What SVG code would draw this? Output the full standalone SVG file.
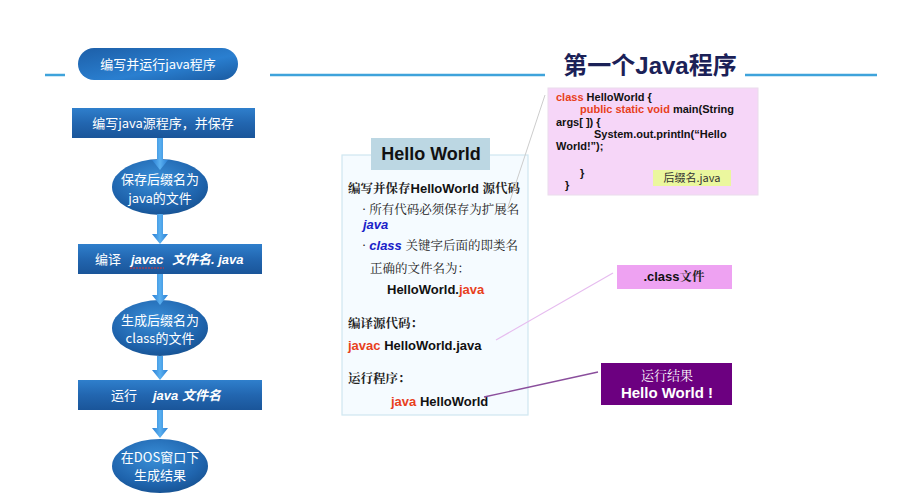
<svg xmlns="http://www.w3.org/2000/svg" width="923" height="500" viewBox="0 0 923 500">
<defs>
<linearGradient id="gPill" x1="0" y1="0" x2="1" y2="1">
<stop offset="0" stop-color="#1d5fa8"/><stop offset="0.6" stop-color="#2a7fd0"/><stop offset="1" stop-color="#1a5aa0"/>
</linearGradient>
<linearGradient id="gRect" x1="0" y1="0" x2="0" y2="1">
<stop offset="0" stop-color="#2f7fcc"/><stop offset="0.5" stop-color="#2266b0"/><stop offset="1" stop-color="#1a5599"/>
</linearGradient>
<radialGradient id="gEll" cx="0.45" cy="0.35" r="0.7">
<stop offset="0" stop-color="#3a8fd8"/><stop offset="0.7" stop-color="#1f64ad"/><stop offset="1" stop-color="#16508f"/>
</radialGradient>
<linearGradient id="gArrow" x1="0" y1="0" x2="1" y2="0">
<stop offset="0" stop-color="#2a7fd4"/><stop offset="0.5" stop-color="#5ab0f0"/><stop offset="1" stop-color="#2a7fd4"/>
</linearGradient>
</defs>
<style>
.wt{fill:#ffffff;font-family:"Noto Sans CJK SC","Liberation Sans",sans-serif;font-size:13px;text-anchor:middle}
.wti{font-family:"Liberation Sans","Noto Sans CJK SC",sans-serif;font-style:italic;font-weight:bold}
.hl{stroke:#3ea3db;stroke-width:2.5}
.arr{fill:url(#gArrow)}
.cn{font-family:"Noto Serif CJK SC","Liberation Serif","Noto Sans CJK SC",serif;font-size:12.5px;fill:#222}
.ar{font-family:"Liberation Sans","Noto Sans CJK SC",sans-serif;font-size:13px;fill:#111;font-weight:bold}
.red{fill:#e8401c}
.blue{fill:#1a22c8;font-style:italic;font-weight:bold}
.code{font-family:"Liberation Sans","Noto Sans CJK SC",sans-serif;font-size:11px;font-weight:bold;fill:#111}
</style>
<rect width="923" height="500" fill="#ffffff"/>
<g id="header-lines">
<line class="hl" x1="45" y1="75" x2="65" y2="75"/>
<line class="hl" x1="270" y1="75" x2="545" y2="75"/>
<line class="hl" x1="745" y1="75" x2="877" y2="75"/>
</g>
<g id="title">
<text x="650" y="74" text-anchor="middle" font-family="Liberation Sans,'Noto Sans CJK SC',sans-serif" font-weight="bold" font-size="24" fill="#1b2157">第一个Java程序</text>
</g>
<g id="pill">
<rect x="78" y="48" width="160" height="32" rx="16" fill="url(#gPill)"/>
<text class="wt" x="158" y="69">编写并运行java程序</text>
</g>
<g id="step1">
<rect x="72" y="108" width="183" height="30" fill="url(#gRect)"/>
<text class="wt" x="163" y="128">编写java源程序，并保存</text>
</g>
<g id="ell1">
<ellipse cx="160" cy="187" rx="48" ry="28" fill="url(#gEll)"/>
<text class="wt" x="160" y="184">保存后缀名为</text>
<text class="wt" x="160" y="203">java的文件</text>
</g>
<g id="step2">
<rect x="78" y="244" width="184" height="30" fill="url(#gRect)"/>
<text x="95" y="264" fill="#fff" font-family="'Noto Sans CJK SC',sans-serif" font-size="13">编译</text>
<text class="wti" x="131" y="264" fill="#fff" font-size="13">javac</text>
<line x1="130" y1="268" x2="164" y2="268" stroke="#e03030" stroke-width="1" stroke-dasharray="2,1"/>
<text class="wti" x="172" y="264" fill="#fff" font-size="13">文件名. java</text>
</g>
<g id="ell2">
<ellipse cx="160" cy="328" rx="48" ry="28" fill="url(#gEll)"/>
<text class="wt" x="160" y="325">生成后缀名为</text>
<text class="wt" x="160" y="343">class的文件</text>
</g>
<g id="step3">
<rect x="78" y="380" width="184" height="30" fill="url(#gRect)"/>
<text x="111" y="400" fill="#fff" font-family="'Noto Sans CJK SC',sans-serif" font-size="13">运行</text>
<text class="wti" x="153" y="400" fill="#fff" font-size="13">java 文件名</text>
</g>
<g id="ell3">
<ellipse cx="160" cy="466" rx="48" ry="27" fill="url(#gEll)"/>
<text class="wt" x="160" y="462">在DOS窗口下</text>
<text class="wt" x="160" y="480">生成结果</text>
</g>
<g id="hello-panel">
<rect x="342" y="155" width="186" height="260" fill="#f5fbff" stroke="#cfe7f1" stroke-width="1.2"/>
<rect x="371" y="138" width="119" height="32" fill="#bcd7e3"/>
<text x="431" y="160" text-anchor="middle" font-family="Liberation Sans,sans-serif" font-weight="bold" font-size="18" fill="#111">Hello World</text>
<text x="348" y="193"><tspan class="cn" font-weight="bold">编写并保存</tspan><tspan class="ar">HelloWorld </tspan><tspan class="cn" font-weight="bold">源代码</tspan></text>
<text class="cn" x="362" y="214">· 所有代码必须保存为扩展名</text>
<text x="363" y="229" class="ar blue">java</text>
<text x="362" y="250"><tspan class="cn">· </tspan><tspan class="ar blue">class </tspan><tspan class="cn">关键字后面的即类名</tspan></text>
<text class="cn" x="370" y="273">正确的文件名为：</text>
<text x="387" y="294"><tspan class="ar">HelloWorld.</tspan><tspan class="ar red" font-weight="normal">java</tspan></text>
<text class="cn" x="348" y="328" font-weight="bold">编译源代码：</text>
<text x="348" y="350"><tspan class="ar red" font-weight="normal">javac </tspan><tspan class="ar">HelloWorld.java</tspan></text>
<text class="cn" x="348" y="383" font-weight="bold">运行程序：</text>
<text x="391" y="406"><tspan class="ar red" font-weight="normal">java </tspan><tspan class="ar">HelloWorld</tspan></text>
</g>
<g id="code-box">
<rect x="548" y="88" width="210" height="107" fill="#f6d6f8" stroke="#eadcec"/>
<text class="code" x="556" y="101"><tspan fill="#e8401c">class</tspan> HelloWorld {</text>
<text class="code" x="580" y="113"><tspan fill="#e8401c">public static void</tspan> main(String</text>
<text class="code" x="556" y="126">args[ ])  {</text>
<text class="code" x="594" y="138">System.out.println(“Hello</text>
<text class="code" x="556" y="150">World!”);</text>
<text class="code" x="580" y="177">}</text>
<text class="code" x="565" y="189">}</text>
<rect x="653" y="170" width="78" height="16" fill="#ebf79e"/>
<text x="692" y="182" text-anchor="middle" font-family="'Noto Sans CJK SC',sans-serif" font-size="11" fill="#333">后缀名.java</text>
</g>
<g id="class-file">
<rect x="617" y="265" width="115" height="24" fill="#eea2f2"/>
<text x="674" y="281" text-anchor="middle"><tspan class="ar">.class</tspan><tspan class="cn" font-weight="bold">文件</tspan></text>
</g>
<g id="run-result">
<rect x="601" y="363" width="131" height="42" fill="#6c0080"/>
<text x="667" y="380" text-anchor="middle" font-family="'Noto Serif CJK SC','Noto Sans CJK SC',serif" font-size="13" fill="#fff">运行结果</text>
<text x="667" y="398" text-anchor="middle" font-family="Liberation Sans,sans-serif" font-weight="bold" font-size="15" fill="#fff">Hello World !</text>
</g>
<g id="connectors">
<path class="arr" d="M157,138 h6 v22 h5 l-8,10 l-8,-10 h5 z"/>
<path class="arr" d="M157,214 h6 v20 h5 l-8,10 l-8,-10 h5 z"/>
<path class="arr" d="M157,274 h6 v21 h5 l-8,10 l-8,-10 h5 z"/>
<path class="arr" d="M157,356 h6 v14 h5 l-8,10 l-8,-10 h5 z"/>
<path class="arr" d="M157,410 h6 v18 h5 l-8,10 l-8,-10 h5 z"/>
<line x1="545" y1="95" x2="508" y2="207" stroke="#cccccc" stroke-width="1"/>
<line x1="496" y1="340" x2="613" y2="273" stroke="#e6bcef" stroke-width="1.2"/>
<line x1="484" y1="397" x2="598" y2="372" stroke="#8a4e9c" stroke-width="1.3"/>
</g>
</svg>
